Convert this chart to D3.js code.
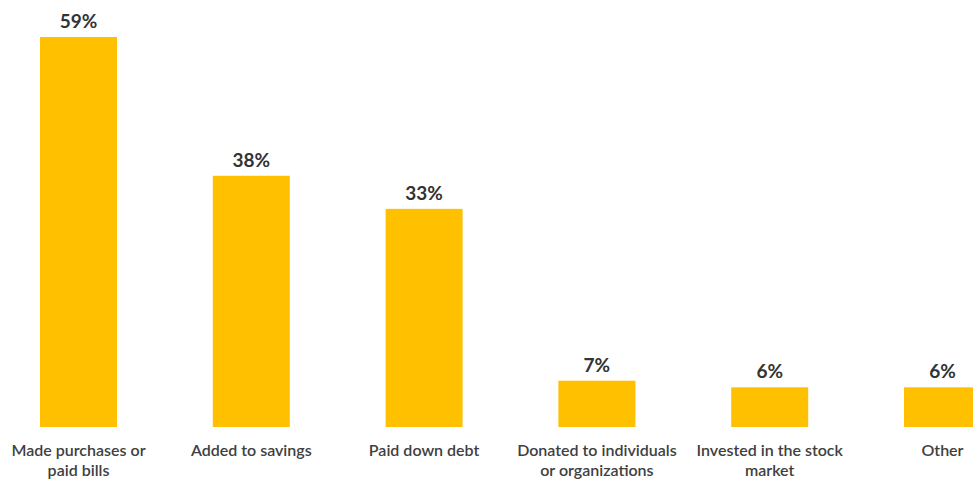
<!DOCTYPE html>
<html><head><meta charset="utf-8">
<script src="https://cdn.jsdelivr.net/npm/d3@7"></script>
<style>html,body{margin:0;padding:0;background:#fff;overflow:hidden}</style>
</head><body>
<svg id="c" width="973" height="483"></svg>
<script>
const categories = [
  ["Made purchases or", "paid bills"],
  ["Added to savings"],
  ["Paid down debt"],
  ["Donated to individuals", "or organizations"],
  ["Invested in the stock", "market"],
  ["Other"]
];
const values = [59, 38, 33, 7, 6, 6];
const valueLabels = ["59%", "38%", "33%", "7%", "6%", "6%"];

const svg = d3.select("#c");
const keys = categories.map((c, i) => i);
const x = d3.scaleBand().domain(keys).range([-7.9, 1028.9]).paddingInner(0.5544).paddingOuter(0.2772);
const y = d3.scaleLinear().domain([0, 59]).range([427, 37]);
const font = "Lato, 'Open Sans', sans-serif";

svg.selectAll("rect.bar").data(values).join("rect")
  .attr("class", "bar")
  .attr("x", (d, i) => x(i))
  .attr("width", x.bandwidth())
  .attr("y", d => y(d))
  .attr("height", d => y(0) - y(d))
  .attr("fill", "#FFC000");

svg.selectAll("text.val").data(values).join("text")
  .attr("class", "val")
  .attr("x", (d, i) => x(i) + x.bandwidth() / 2)
  .attr("y", d => y(d) - 9)
  .attr("text-anchor", "middle")
  .attr("font-family", font)
  .attr("font-weight", "bold")
  .attr("font-size", 19)
  .attr("fill", "#333333")
  .text((d, i) => valueLabels[i]);

const cat = svg.selectAll("text.cat").data(categories).join("text")
  .attr("class", "cat")
  .attr("text-anchor", "middle")
  .attr("font-family", font)
  .attr("font-size", 16)
  .attr("font-weight", 600)
  .attr("fill", "#404040");
cat.each(function(lines, i) {
  const t = d3.select(this);
  lines.forEach((l, j) => {
    t.append("tspan")
      .attr("x", x(i) + x.bandwidth() / 2)
      .attr("y", 456 + j * 20)
      .text(l);
  });
});
</script>
</body></html>
